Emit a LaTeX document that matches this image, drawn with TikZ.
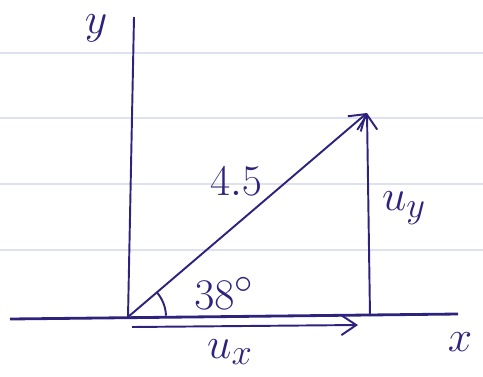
\documentclass[tikz,border=0pt]{standalone}
\usetikzlibrary{arrows.meta}
\definecolor{ink}{RGB}{45,35,125}
\definecolor{rule}{RGB}{222,225,240}
\begin{document}
\begin{tikzpicture}[x=0.02cm, y=-0.02cm, >={Straight Barb[length=3mm,width=4mm]}, every node/.style={text=ink, font=\Huge}]
\useasboundingbox (0,0) rectangle (483,376);
\foreach \ry in {53,118,184,250} \draw[rule, line width=0.8pt] (0,\ry) -- (483,\ry);
\coordinate (o) at (128,317);
\coordinate (ytop) at (134,17);
\coordinate (xl) at (10,319);
\coordinate (xr) at (458,314);
\coordinate (p) at (367,113);
\coordinate (q) at (370,316);
\coordinate (hs) at (132,327);
\coordinate (he) at (358,325);
\draw[ink, line width=1.1pt] (ytop) -- (o);
\draw[ink, line width=1.6pt] (xl) -- (xr);
\draw[ink, line width=1.1pt, ->] (o) -- (p);
\draw[ink, line width=1.1pt, ->] (q) -- (p);
\draw[ink, line width=1.1pt, ->] (hs) -- (he);
\draw[ink, line width=1.1pt] (128,317) ++(-2:38) arc[start angle=-2, end angle=-40, radius=38];
\node (ylab) at (96,28) {$y$};
\node (len) at (236,181) {$4.5$};
\node (uy) at (404,208) {$u_y$};
\node (ang) at (224,293) {$38^\circ$};
\node (ux) at (230,352) {$u_x$};
\node (xlab) at (460,342) {$x$};
\end{tikzpicture}
\end{document}
